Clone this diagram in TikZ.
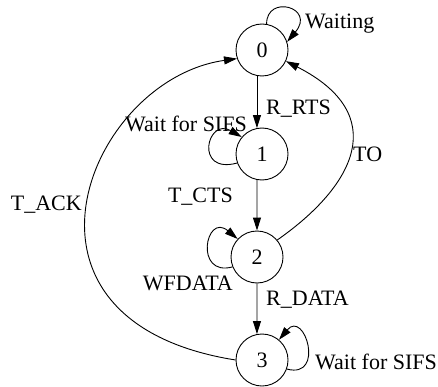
\documentclass[tikz,border=0pt]{standalone}
\usepackage{fontspec}
\setmainfont{Liberation Serif}
\usetikzlibrary{arrows.meta}
\tikzset{
  stnode/.style={circle, draw, line width=0.9pt, minimum size=52pt, inner sep=0pt,
    font=\fontsize{22}{26}\selectfont},
  lbl/.style={inner sep=0pt, font=\fontsize{22}{26}\selectfont},
  trans/.style={line width=0.9pt, -{Triangle[length=13pt,width=8pt]}},
}
\begin{document}
\begin{tikzpicture}[x=1pt,y=1pt]
\useasboundingbox (0,0) rectangle (438,386);

% states
\node[stnode] (n0) at (262,336) {0};
\node[stnode] (n1) at (262,232) {1};
\node[stnode] (n2) at (257,129) {2};
\node[stnode] (n3) at (262,26) {3};

% straight transitions down the chain
\draw[trans] (n0.-101) -- (n1.101);
\draw[trans] (n1.-101) -- (n2.90);
\draw[trans] (n2.-90) -- (n3.101);

% self loops
\draw[trans] (n0.80) .. controls +(90:30) and +(50:45) .. (n0.18);
\draw[trans] (n1.200) .. controls +(195:45) and +(150:40) .. (n1.140);
\draw[trans] (n2.202) .. controls +(195:40) and +(140:42) .. (n2.137);
\draw[trans] (n3.-20) .. controls +(-15:40) and +(50:40) .. (n3.50);

% return transitions
\draw[trans] (n2.40) .. controls +(35:95) and +(-27:118) .. (n0.-25);
\draw[trans] (n3.180) .. controls +(171:250) and +(188:150) .. (n0.199);

% labels
\node[lbl, anchor=base west] (lw) at (305,357.7) {Waiting};
\node[lbl, anchor=base west] (lr) at (266,271) {R\_RTS};
\node[lbl, anchor=base east] (lws1) at (247,254.3) {Wait for SIFS};
\node[lbl, anchor=base east] (lc) at (233,184) {T\_CTS};
\node[lbl, anchor=base east] (lwf) at (233,96) {WFDATA};
\node[lbl, anchor=base west] (ld) at (266,81) {R\_DATA};
\node[lbl, anchor=base west] (lws3) at (315,16.7) {Wait for SIFS};
\node[lbl, anchor=base west] (lto) at (353,224.3) {TO};
\node[lbl, anchor=base east] (la) at (82,176) {T\_ACK};
\end{tikzpicture}
\end{document}
